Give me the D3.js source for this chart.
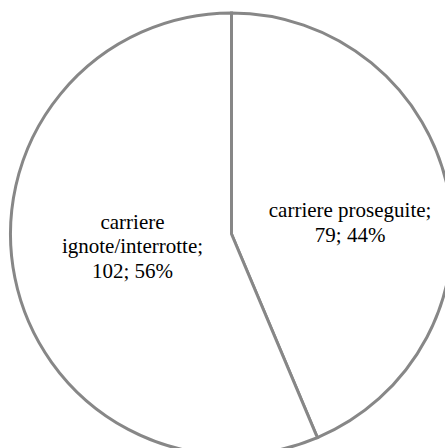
<!DOCTYPE html>
<html>
<head>
<meta charset="utf-8">
<script src="https://cdn.jsdelivr.net/npm/d3@7"></script>
<style>
  body { margin: 0; background: #fff; }
  svg { display: block; }
  text { font-family: "Liberation Serif", "Times New Roman", serif; fill: #000; }
</style>
</head>
<body>
<svg id="chart" width="445" height="448"></svg>
<script>
const categories = ["carriere proseguite;", "carriere ignote/interrotte;"];
const values = [79, 102];
const percents = ["44%", "56%"];
// how each label is broken into lines
const labelLines = [
    ["carriere proseguite;", "79; 44%"],
    ["carriere", "ignote/interrotte;", "102; 56%"],
];

const width = 445;
const height = 448;
const cx = 231.5;
const cy = 234;
const radius = 221;

const svg = d3.select("#chart");
svg.append("rect").attr("width", width).attr("height", height).attr("fill", "#fff");

const pie = d3.pie().sort(null).value((d) => d);
const arcs = pie(values);

const arc = d3.arc().innerRadius(0).outerRadius(radius);

const g = svg.append("g").attr("transform", `translate(${cx},${cy})`);

g.selectAll(".slice")
    .data(arcs)
    .enter()
    .append("path")
    .classed("slice", true)
    .attr("d", arc)
    .attr("fill", "#fff")
    .attr("stroke", "#878787")
    .attr("stroke-width", 3)
    .attr("stroke-linejoin", "miter");

// label anchor radius + nudge differs per slice (best-fit style placement)
const labelRadius = [121, 101];
const labelNudge = [12, -8];
const lineHeight = 24.5;

g.selectAll(".label")
    .data(arcs)
    .enter()
    .append("text")
    .classed("label", true)
    .attr("text-anchor", "middle")
    .attr("font-size", 21)
    .each(function (d, i) {
        const c = d3.arc().innerRadius(labelRadius[i]).outerRadius(labelRadius[i]).centroid(d);
        const lines = labelLines[i];
        const top = c[1] + labelNudge[i] - ((lines.length - 1) * lineHeight) / 2;
        d3.select(this)
            .selectAll("tspan")
            .data(lines)
            .enter()
            .append("tspan")
            .attr("x", c[0])
            .attr("y", (l, j) => top + j * lineHeight)
            .attr("dy", "0.35em")
            .text((l) => l);
    });
</script>
</body>
</html>
